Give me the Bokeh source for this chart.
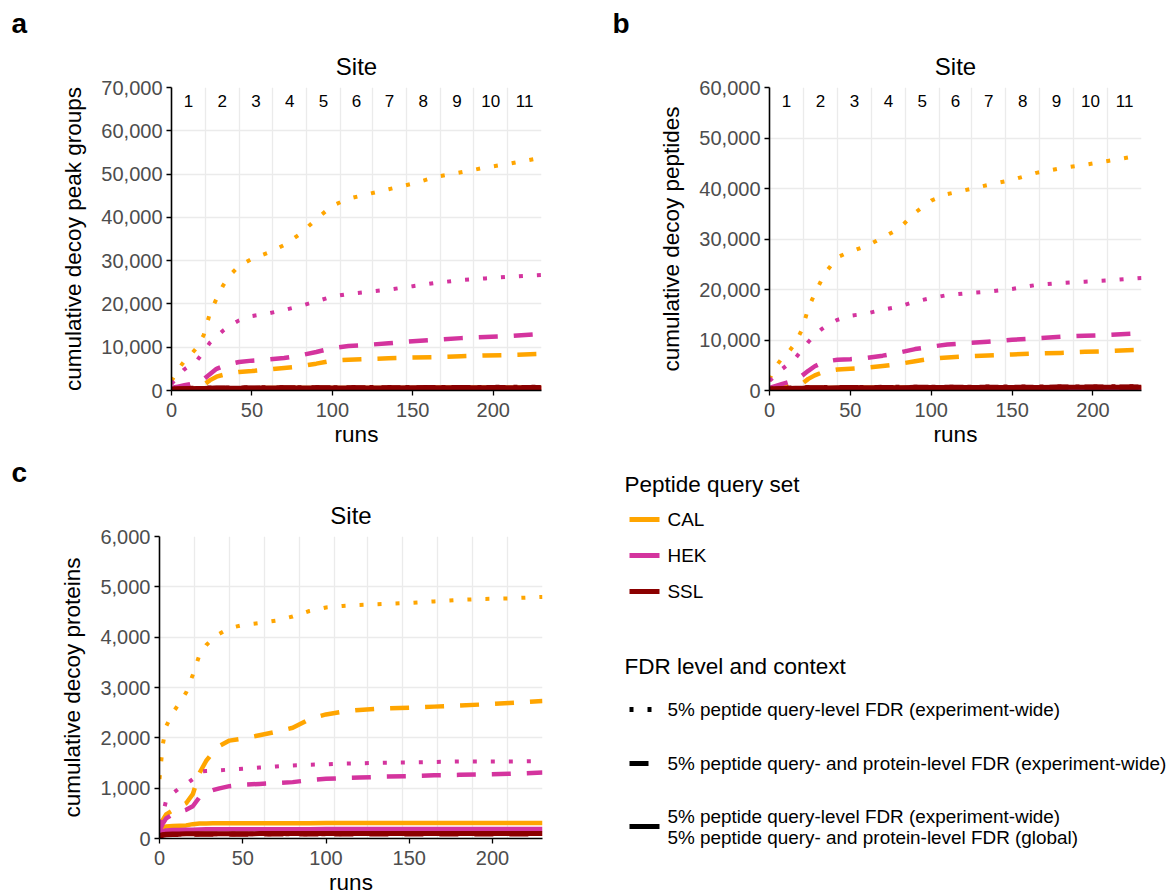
import numpy as np
from bokeh.plotting import figure
from bokeh.layouts import column, row
from bokeh.models import Range1d, FixedTicker, NumeralTickFormatter, Title, Label, Arrow
from bokeh.embed import file_html
from bokeh.resources import INLINE
from bokeh.core.properties import value

FONT = "Liberation Sans"

# ---------------- data ----------------
runs = [0, 2, 4, 8, 12, 16, 20, 24, 28, 32, 36, 42, 50, 60, 70, 80, 90, 100,
        110, 120, 135, 150, 165, 180, 195, 210, 230]

site_labels = ["1", "2", "3", "4", "5", "6", "7", "8", "9", "10", "11"]
site_edges = [0, 21, 42, 63, 84, 105, 125, 146, 167, 188, 209, 230]

query_sets = ["CAL", "HEK", "SSL"]
set_colors = ["#FFA500", "#D4349E", "#8B0000"]
fdr_labels = ["5% peptide query-level FDR (experiment-wide)",
              "5% peptide query- and protein-level FDR (experiment-wide)",
              "5% peptide query-level FDR (experiment-wide)\n5% peptide query- and protein-level FDR (global)"]

# panel a: cumulative decoy peak groups (thousands)
a_cal_dot = [2.2, 3.5, 4.8, 6.8, 8.3, 10.0, 12.8, 18.0, 21.2, 24.2, 26.5, 28.8, 30.4, 31.8, 33.6, 36.2,
             39.6, 42.7, 44.3, 45.2, 46.5, 47.8, 49.4, 50.4, 51.5, 52.4, 53.8]
a_cal_dash = [0.4, 0.5, 0.55, 0.7, 0.85, 1.0, 1.3, 2.4, 3.2, 3.6, 4.0, 4.3, 4.5, 4.85, 5.2, 5.6,
              6.2, 6.9, 7.1, 7.25, 7.45, 7.6, 7.7, 7.9, 8.1, 8.2, 8.45]
a_cal_solid = [0.2, 0.3, 0.35, 0.4, 0.42, 0.44, 0.46, 0.5, 0.51, 0.52, 0.52, 0.53, 0.54, 0.55, 0.55, 0.56,
               0.57, 0.58, 0.58, 0.59, 0.6, 0.6, 0.61, 0.61, 0.62, 0.62, 0.63]
a_hek_dot = [1.5, 2.4, 3.3, 4.9, 5.9, 7.0, 9.0, 11.1, 12.5, 13.8, 14.9, 16.2, 17.2, 17.8, 18.6, 19.5,
             20.6, 21.7, 22.3, 22.7, 23.3, 24.1, 24.9, 25.5, 25.9, 26.3, 26.7]
a_hek_dash = [0.6, 0.75, 0.9, 1.2, 1.5, 1.9, 2.6, 3.8, 5.0, 5.6, 6.1, 6.6, 6.9, 7.15, 7.5, 8.1,
              8.9, 9.8, 10.3, 10.5, 10.9, 11.4, 11.75, 12.1, 12.35, 12.6, 13.1]
a_hek_solid = [0.15, 0.22, 0.28, 0.32, 0.35, 0.37, 0.39, 0.42, 0.43, 0.44, 0.44, 0.45, 0.46, 0.46, 0.47, 0.47,
               0.48, 0.48, 0.49, 0.49, 0.5, 0.5, 0.51, 0.51, 0.52, 0.52, 0.53]
a_ssl_dot = [0.3, 0.4, 0.45, 0.5, 0.55, 0.58, 0.6, 0.62, 0.63, 0.64, 0.65, 0.66, 0.67, 0.68, 0.69, 0.7,
             0.71, 0.72, 0.72, 0.73, 0.74, 0.75, 0.76, 0.77, 0.78, 0.79, 0.8]
a_ssl_dash = [0.25, 0.33, 0.38, 0.43, 0.47, 0.5, 0.52, 0.54, 0.55, 0.56, 0.57, 0.58, 0.59, 0.6, 0.61, 0.62,
              0.63, 0.63, 0.64, 0.64, 0.65, 0.66, 0.67, 0.68, 0.68, 0.69, 0.7]
a_ssl_solid = [0.2, 0.28, 0.33, 0.38, 0.42, 0.45, 0.47, 0.49, 0.5, 0.51, 0.52, 0.53, 0.54, 0.55, 0.56, 0.57,
               0.58, 0.58, 0.59, 0.59, 0.6, 0.61, 0.62, 0.63, 0.63, 0.64, 0.65]

# panel b: cumulative decoy peptides (thousands)
b_cal_dot = [2.2, 3.6, 4.8, 6.5, 7.7, 9.4, 12.0, 16.3, 19.2, 21.8, 23.9, 26.4, 27.5, 28.6, 30.3, 32.0,
             35.2, 37.6, 38.9, 39.6, 40.7, 41.7, 43.1, 44.0, 44.7, 45.5, 46.6]
b_cal_dash = [0.4, 0.48, 0.55, 0.7, 0.85, 1.0, 1.3, 2.3, 3.0, 3.5, 3.85, 4.15, 4.3, 4.5, 4.85, 5.25,
              5.8, 6.3, 6.55, 6.75, 6.95, 7.15, 7.3, 7.45, 7.65, 7.8, 8.1]
b_cal_solid = [0.2, 0.28, 0.33, 0.37, 0.4, 0.42, 0.44, 0.47, 0.48, 0.49, 0.5, 0.5, 0.51, 0.52, 0.52, 0.53,
               0.54, 0.55, 0.55, 0.56, 0.56, 0.57, 0.57, 0.58, 0.58, 0.59, 0.6]
b_hek_dot = [1.9, 2.5, 3.1, 4.3, 5.3, 6.4, 8.0, 9.6, 11.0, 12.1, 13.0, 14.0, 14.8, 15.25, 16.0, 16.6,
             17.6, 18.3, 18.9, 19.2, 19.55, 20.1, 20.9, 21.3, 21.55, 21.8, 22.3]
b_hek_dash = [0.5, 0.7, 0.9, 1.3, 1.7, 2.2, 2.9, 3.9, 4.8, 5.4, 5.8, 6.1, 6.2, 6.45, 6.9, 7.5,
              8.2, 8.7, 9.1, 9.35, 9.65, 10.05, 10.35, 10.65, 10.85, 11.0, 11.35]
b_hek_solid = [0.15, 0.2, 0.26, 0.3, 0.33, 0.35, 0.37, 0.4, 0.41, 0.42, 0.42, 0.43, 0.44, 0.44, 0.45, 0.45,
               0.46, 0.46, 0.47, 0.47, 0.48, 0.48, 0.49, 0.49, 0.5, 0.5, 0.51]
b_ssl_dot = [0.3, 0.38, 0.44, 0.49, 0.53, 0.56, 0.58, 0.6, 0.61, 0.62, 0.63, 0.64, 0.65, 0.66, 0.67, 0.68,
             0.69, 0.7, 0.7, 0.71, 0.72, 0.73, 0.74, 0.75, 0.76, 0.77, 0.78]
b_ssl_dash = [0.25, 0.32, 0.37, 0.42, 0.46, 0.49, 0.51, 0.53, 0.54, 0.55, 0.56, 0.57, 0.58, 0.59, 0.6, 0.61,
              0.62, 0.62, 0.63, 0.63, 0.64, 0.65, 0.66, 0.67, 0.67, 0.68, 0.69]
b_ssl_solid = [0.2, 0.27, 0.32, 0.37, 0.41, 0.44, 0.46, 0.48, 0.49, 0.5, 0.51, 0.52, 0.53, 0.54, 0.55, 0.56,
               0.57, 0.57, 0.58, 0.58, 0.59, 0.6, 0.61, 0.62, 0.62, 0.63, 0.64]

# panel c: cumulative decoy proteins
c_cal_dot = [1180, 1870, 2230, 2500, 2690, 2900, 3250, 3650, 3840, 3970, 4070, 4180, 4240, 4280, 4330, 4410,
             4520, 4590, 4620, 4640, 4660, 4680, 4710, 4740, 4760, 4770, 4800]
c_cal_dash = [250, 370, 480, 560, 630, 700, 880, 1300, 1540, 1710, 1840, 1945, 1985, 2050, 2120, 2200,
              2370, 2465, 2520, 2555, 2585, 2600, 2620, 2640, 2665, 2690, 2730]
c_cal_solid = [150, 200, 240, 250, 255, 260, 285, 300, 300, 302, 302, 303, 303, 304, 304, 305,
               305, 306, 306, 306, 307, 307, 308, 308, 309, 309, 310]
c_hek_dot = [300, 480, 760, 900, 1000, 1080, 1180, 1330, 1340, 1345, 1355, 1370, 1385, 1410, 1430, 1450,
             1465, 1475, 1490, 1495, 1505, 1510, 1520, 1530, 1530, 1530, 1540]
c_hek_dash = [150, 300, 400, 480, 530, 570, 640, 820, 910, 960, 995, 1040, 1070, 1085, 1100, 1120,
              1160, 1185, 1200, 1210, 1230, 1240, 1255, 1265, 1275, 1285, 1310]
c_hek_solid = [110, 140, 160, 168, 170, 172, 175, 180, 182, 183, 184, 184, 185, 185, 186, 186,
               186, 187, 187, 187, 188, 188, 188, 189, 189, 189, 190]
c_ssl_dot = [55, 70, 78, 82, 84, 85, 86, 87, 88, 88, 89, 89, 90, 90, 90, 91,
             91, 91, 92, 92, 92, 93, 93, 93, 94, 94, 94]
c_ssl_dash = [50, 65, 75, 78, 80, 82, 83, 84, 85, 85, 86, 86, 86, 87, 87, 87,
              88, 88, 88, 88, 89, 89, 89, 90, 90, 90, 90]
c_ssl_solid = [60, 75, 85, 88, 90, 92, 93, 94, 95, 95, 96, 96, 96, 97, 97, 97,
               98, 98, 98, 98, 99, 99, 99, 100, 100, 100, 100]

# ---------------- styling ----------------
DASHES = ["4 14", "19 16", "solid"]
WIDTHS = [4, 4.5, 4.5]
TICK_COLOR = "#4D4D4D"
GRID_COLOR = "#EBEBEB"


def make_panel(letter, ylabel, ymax, ystep, series, scale, show_sites,
               bl, fw, br, bt, fh, bb, letter_offset):
    p = figure(frame_width=fw, frame_height=fh,
               min_border_left=bl, min_border_right=br,
               min_border_top=bt, min_border_bottom=bb,
               x_range=Range1d(0, 230), y_range=Range1d(0, ymax),
               output_backend="svg", toolbar_location=None)
    p.outline_line_color = None
    p.background_fill_color = "white"

    yticks = list(range(0, ymax + 1, ystep))
    p.xaxis.ticker = FixedTicker(ticks=[0, 50, 100, 150, 200])
    p.yaxis.ticker = FixedTicker(ticks=yticks)
    p.yaxis.formatter = NumeralTickFormatter(format="0,0")
    for ax in (p.xaxis[0], p.yaxis[0]):
        ax.axis_line_color = "black"
        ax.axis_line_width = 1.6
        ax.major_tick_line_color = "black"
        ax.major_tick_line_width = 1.3
        ax.major_tick_out = 5
        ax.major_tick_in = 0
        ax.minor_tick_line_color = None
        ax.major_label_text_font = FONT
        ax.major_label_text_font_size = "20px"
        ax.major_label_text_color = TICK_COLOR
        ax.axis_label_text_font = FONT
        ax.axis_label_text_font_size = "22.5px"
        ax.axis_label_text_font_style = "normal"
        ax.axis_label_text_color = "black"
    p.xaxis.axis_label = "runs"
    p.yaxis.axis_label = ylabel
    p.xaxis.major_label_standoff = 7
    p.yaxis.major_label_standoff = 4
    p.xaxis.axis_label_standoff = 2
    p.yaxis.axis_label_standoff = 12

    p.ygrid.ticker = FixedTicker(ticks=yticks)
    p.xgrid.ticker = FixedTicker(ticks=site_edges[1:])
    for g in (p.xgrid[0], p.ygrid[0]):
        g.grid_line_color = GRID_COLOR
        g.grid_line_width = 1.3

    if show_sites:
        centers = [(site_edges[i] + site_edges[i + 1]) / 2 for i in range(len(site_labels))]
        p.text(x=centers, y=[ymax] * len(centers), text=site_labels,
               text_font=value(FONT), text_font_size="17px", text_color="black",
               text_align="center", text_baseline="middle", y_offset=13)

    for si, color in enumerate(set_colors):
        for fi in range(3):
            vals = np.array(series[si][fi], dtype=float) * scale
            p.line(runs, vals, line_color=color, line_width=WIDTHS[fi] + (0.5 if si == 2 else 0),
                   line_dash=DASHES[fi], line_cap="butt", line_join="round")

    # outer title: panel letter; inner title: "Site"
    p.title.text = letter
    p.title.align = "left"
    p.title.offset = letter_offset
    p.title.text_font = FONT
    p.title.text_font_size = "28px"
    p.title.text_font_style = "bold"
    p.title.text_color = "black"
    p.title.standoff = 10
    p.add_layout(Title(text="Site", align="center", text_font=FONT, text_font_size="24px",
                       text_font_style="normal", text_color="black", standoff=15), "above")
    return p


series_a = [[a_cal_dot, a_cal_dash, a_cal_solid],
            [a_hek_dot, a_hek_dash, a_hek_solid],
            [a_ssl_dot, a_ssl_dash, a_ssl_solid]]
series_b = [[b_cal_dot, b_cal_dash, b_cal_solid],
            [b_hek_dot, b_hek_dash, b_hek_solid],
            [b_ssl_dot, b_ssl_dash, b_ssl_solid]]
series_c = [[c_cal_dot, c_cal_dash, c_cal_solid],
            [c_hek_dot, c_hek_dash, c_hek_solid],
            [c_ssl_dot, c_ssl_dash, c_ssl_solid]]

# page geometry (figures start at the page's top-left corner)
pa = make_panel("a", "cumulative decoy peak groups", 70000, 10000, series_a, 1000, True,
                171, 370, 57, 87, 303, 58, -160)
pb = make_panel("b", "cumulative decoy peptides", 60000, 10000, series_b, 1000, True,
                171, 372, 27, 87, 303, 58, -157)
pc = make_panel("c", "cumulative decoy proteins", 6000, 1000, series_c, 1, False,
                159, 383, 56, 87, 302, 57, -148)

# ---------------- legend panel ----------------
# whole figure is its frame; data units equal page pixels
LX0, LW = 598, 570
LY0, LH = 448, 446
leg = figure(frame_width=LW, frame_height=LH, min_border=0,
             x_range=Range1d(LX0, LX0 + LW), y_range=Range1d(LY0 + LH, LY0),
             x_axis_type=None, y_axis_type=None,
             output_backend="svg", toolbar_location=None)
leg.grid.visible = False
leg.outline_line_color = None

key_x0, key_x1, text_x, title_x = 629, 659, 667, 624


def add_text(x, y, txt, size):
    leg.add_layout(Label(x=x, y=y, text=txt, text_font=FONT, text_font_size=size,
                         text_baseline="middle", text_align="left", text_color="black"))


def add_key(y, color, dash):
    leg.add_layout(Arrow(start=None, end=None, x_start=key_x0, y_start=y, x_end=key_x1, y_end=y,
                         line_color=color, line_width=5, line_dash=dash, line_cap="butt"))


add_text(title_x, 483, "Peptide query set", "22.5px")
for i, (name, color) in enumerate(zip(query_sets, set_colors)):
    y = 518 + 36 * i
    add_key(y, color, "solid")
    add_text(text_x, y, name, "18.9px")

add_text(title_x, 665, "FDR level and context", "22.5px")
fdr_y = [708, 762, 825]
for i, lab in enumerate(fdr_labels):
    add_key(fdr_y[i], "black", DASHES[i])
    lines = lab.split("\n")
    n = len(lines)
    for k, line in enumerate(lines):
        add_text(text_x, fdr_y[i] + (k - (n - 1) / 2) * 21, line, "18.9px")

layout = column(row(pa, pb), row(pc, column(leg)))
open("out.html", "w").write(file_html(layout, INLINE))
